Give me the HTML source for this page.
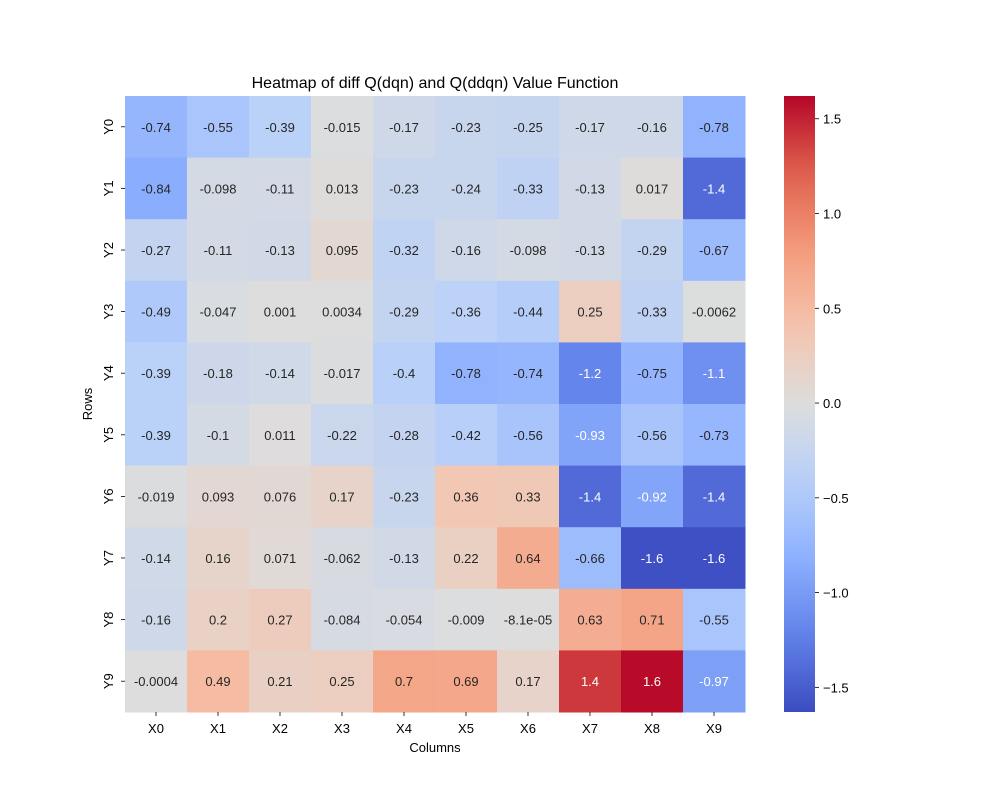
<!DOCTYPE html>
<html><head><meta charset="utf-8"><style>
body{margin:0;background:#fff;}
svg{font-family:"Liberation Sans","DejaVu Sans",sans-serif;}
</style></head><body>
<svg id="chart" width="1000" height="800" xmlns="http://www.w3.org/2000/svg">
<defs>
<linearGradient id="cbgrad" x1="0" y1="1" x2="0" y2="0"></linearGradient>
</defs>
<text x="435" y="88" text-anchor="middle" font-size="16" fill="#000">Heatmap of diff Q(dqn) and Q(ddqn) Value Function</text>
<text x="435" y="752" text-anchor="middle" font-size="13" fill="#000">Columns</text>
<text x="92" y="404" text-anchor="middle" font-size="13" fill="#000" transform="rotate(-90 92 404)">Rows</text>
<g id="cells"></g>
<g id="xticks"></g>
<g id="yticks"></g>
<rect x="784" y="96" width="31" height="616" fill="url(#cbgrad)"/>
<g id="cbticks"></g>
</svg>
<script>
const columns = ["X0","X1","X2","X3","X4","X5","X6","X7","X8","X9"];
const rows = ["Y0","Y1","Y2","Y3","Y4","Y5","Y6","Y7","Y8","Y9"];
const row0 = [-0.74,-0.55,-0.39,-0.015,-0.17,-0.23,-0.25,-0.17,-0.16,-0.78];
const row1 = [-0.84,-0.098,-0.11,0.013,-0.23,-0.24,-0.33,-0.13,0.017,-1.4];
const row2 = [-0.27,-0.11,-0.13,0.095,-0.32,-0.16,-0.098,-0.13,-0.29,-0.67];
const row3 = [-0.49,-0.047,0.001,0.0034,-0.29,-0.36,-0.44,0.25,-0.33,-0.0062];
const row4 = [-0.39,-0.18,-0.14,-0.017,-0.4,-0.78,-0.74,-1.2,-0.75,-1.1];
const row5 = [-0.39,-0.1,0.011,-0.22,-0.28,-0.42,-0.56,-0.93,-0.56,-0.73];
const row6 = [-0.019,0.093,0.076,0.17,-0.23,0.36,0.33,-1.4,-0.92,-1.4];
const row7 = [-0.14,0.16,0.071,-0.062,-0.13,0.22,0.64,-0.66,-1.6,-1.6];
const row8 = [-0.16,0.2,0.27,-0.084,-0.054,-0.009,-0.000081,0.63,0.71,-0.55];
const row9 = [-0.0004,0.49,0.21,0.25,0.7,0.69,0.17,1.4,1.6,-0.97];
const values = [row0,row1,row2,row3,row4,row5,row6,row7,row8,row9];
const cbTicks = [-1.5,-1.0,-0.5,0.0,0.5,1.0,1.5];

const NS="http://www.w3.org/2000/svg";
const L=125,T=96,W=620,H=616;
const flat=values.flat();
const vmin=Math.min(...flat)-0.03, vmax=Math.max(...flat)+0.02;
const vr=Math.max(Math.abs(vmin),Math.abs(vmax));
const cw=[[0,59,76,192],[0.125,98,130,234],[0.25,141,176,254],[0.375,184,208,249],[0.5,221,221,221],[0.625,245,196,173],[0.75,244,154,123],[0.875,222,96,77],[1,180,4,38]];
function cmap(t){t=Math.max(0,Math.min(1,t));for(let i=1;i<cw.length;i++){if(t<=cw[i][0]){const a=cw[i-1],b=cw[i],f=(t-a[0])/(b[0]-a[0]);return [1,2,3].map(k=>Math.round(a[k]+(b[k]-a[k])*f));}}return cw[8].slice(1);}
function color(v){const c=cmap((v+vr)/(2*vr));return `rgb(${c[0]},${c[1]},${c[2]})`;}
function lum(v){const c=cmap((v+vr)/(2*vr)).map(x=>{x/=255;return x<=0.03928?x/12.92:Math.pow((x+0.055)/1.055,2.4);});return 0.2126*c[0]+0.7152*c[1]+0.0722*c[2];}
function fmt(v){if(v!==0&&Math.abs(v)<1e-4){return v.toExponential(1).replace(/e([+-])(\d)$/,'e$10$2');}return String(+v.toPrecision(2));}
const xs=i=>L+i*W/columns.length, ys=j=>T+j*H/rows.length;
const cw_=W/columns.length, ch=H/rows.length;
function mk(tag,attrs,parent){const e=document.createElementNS(NS,tag);for(const k in attrs)e.setAttribute(k,attrs[k]);parent.appendChild(e);return e;}
const cells=document.getElementById('cells');
values.forEach((r,j)=>r.forEach((v,i)=>{
 const rc=mk('rect',{x:xs(i),y:ys(j),width:cw_+0.5,height:ch+0.5,fill:color(v)},cells);
 
 
 const t=mk('text',{x:xs(i)+cw_/2,y:ys(j)+ch/2+5,'text-anchor':'middle','font-size':'13',fill:lum(v)>0.408?'#262626':'#ffffff'},cells);
 t.textContent=fmt(v);
 
 
}));
const xt=document.getElementById('xticks');
columns.forEach((c,i)=>{const x=xs(i)+cw_/2;
 const l=mk('line',{x1:x,x2:x,y1:T+H,y2:T+H+4,stroke:'#000','stroke-width':0.8},xt);
 
 const t=mk('text',{x:x,y:T+H+21,'text-anchor':'middle','font-size':'13'},xt);t.textContent=c;
 });
const yt=document.getElementById('yticks');
rows.forEach((r,j)=>{const y=ys(j)+ch/2;
 const l=mk('line',{x1:L-4,x2:L,y1:y,y2:y,stroke:'#000','stroke-width':0.8},yt);
 
 const t=mk('text',{x:L-12,y:y,'text-anchor':'middle','font-size':'13',transform:`rotate(-90 ${L-12} ${y})`},yt);t.textContent=r;
 });
const g=document.getElementById('cbgrad');
const cbMin=vmin,cbMax=vmax;
for(let k=0;k<=20;k++){const v=cbMin+(cbMax-cbMin)*k/20;mk('stop',{offset:(k/20),'stop-color':color(v)},g);}
const cbt=document.getElementById('cbticks');
const cy=v=>T+H-(v-cbMin)/(cbMax-cbMin)*H;
cbTicks.forEach(v=>{if(v<cbMin||v>cbMax)return;const y=cy(v);
 const l=mk('line',{x1:815,x2:819,y1:y,y2:y,stroke:'#000','stroke-width':0.8},cbt);
 
 const t=mk('text',{x:823,y:y+5,'font-size':'13'},cbt);t.textContent=(v<0?'\u2212':'')+Math.abs(v).toFixed(1);
 });
</script>
</body></html>
